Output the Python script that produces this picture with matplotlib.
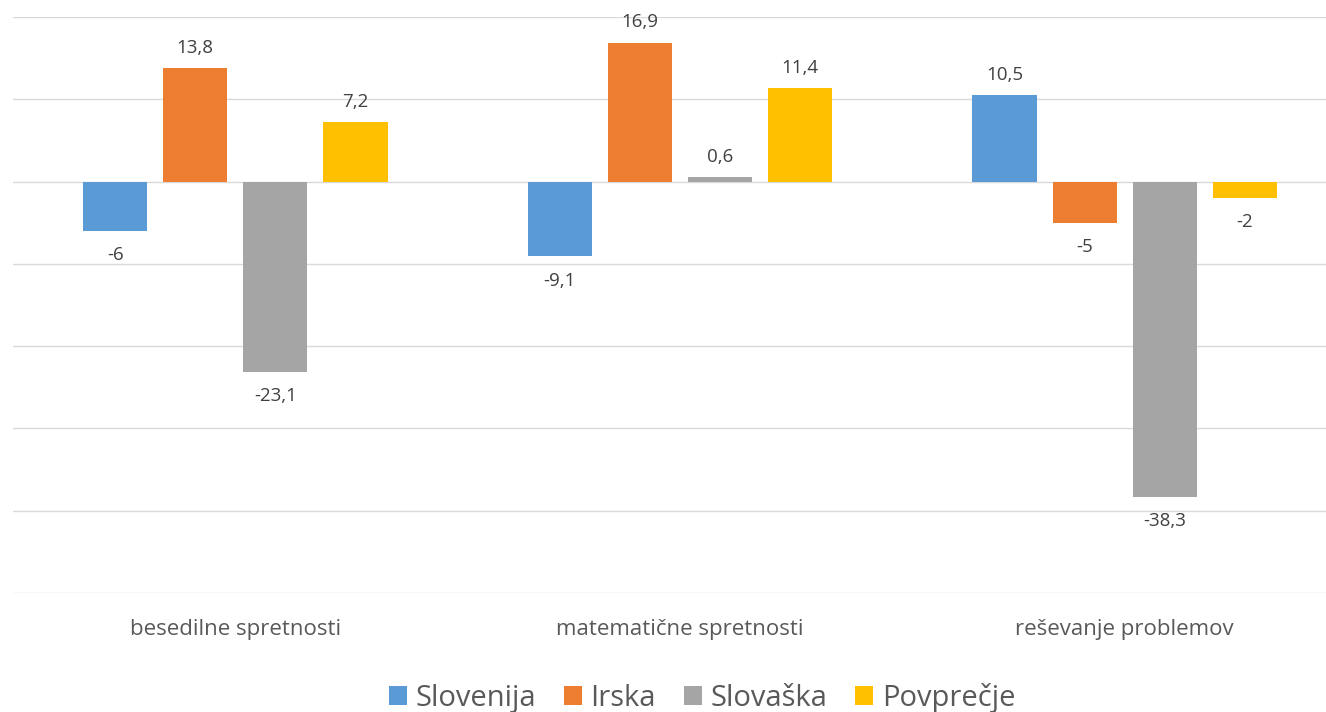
import matplotlib.pyplot as plt
import numpy as np

# chart data
categories = ["besedilne spretnosti", "matematične spretnosti", "reševanje problemov"]
series_names = ["Slovenija", "Irska", "Slovaška", "Povprečje"]
slovenija = [-6, -9.1, 10.5]
irska = [13.8, 16.9, -5]
slovaska = [-23.1, 0.6, -38.3]
povprecje = [7.2, 11.4, -2]
colors = ["#5B9BD5", "#ED7D31", "#A5A5A5", "#FFC000"]
text_col = "#595959"
label_col = "#404040"

plt.rcParams['font.family'] = ['Open Sans', 'DejaVu Sans']

fig = plt.figure(figsize=(13.26, 7.12), dpi=100)
# plot area runs a bit past the right edge of the image
ax = fig.add_axes([13 / 1326, 1 - 593 / 712, 1334 / 1326, (593 - 17) / 712])

x = np.arange(len(categories))
bar_w = 64 / 444
step = 80 / 444
all_series = [slovenija, irska, slovaska, povprecje]
for i, (name, vals) in enumerate(zip(series_names, all_series)):
    pos = x + (i - 1.5) * step
    ax.bar(pos, vals, width=bar_w, color=colors[i], label=name, zorder=3)
    for px, v in zip(pos, vals):
        txt = f"{v:g}".replace(".", ",")
        if v >= 0:
            ax.annotate(txt, (px, v), xytext=(0, 8), textcoords="offset points",
                        ha="center", va="bottom", fontsize=13.5, color=label_col)
        else:
            ax.annotate(txt, (px, v), xytext=(0, -11), textcoords="offset points",
                        ha="center", va="top", fontsize=13.5, color=label_col)

ax.set_ylim(-50, 20)
ax.set_xlim(-0.5, 2.5)
ax.set_yticks(np.arange(-50, 21, 10))
ax.set_yticklabels([])
ax.tick_params(axis="y", length=0)
ax.grid(axis="y", color="#D9D9D9", linewidth=1, zorder=0)
ax.set_xticks(x)
ax.set_xticklabels(categories, fontsize=16, color=text_col)
ax.tick_params(axis="x", length=0, pad=19)
for s in ax.spines.values():
    s.set_visible(False)

# legend is centred on the full (uncropped) chart width
fig.legend(loc="lower center", ncol=4, bbox_to_anchor=(702 / 1326, -0.038), frameon=False,
           fontsize=21, handlelength=0.62, handleheight=0.62, handletextpad=0.3,
           columnspacing=0.95, labelcolor=text_col)

fig.savefig("out.png", dpi=100)
